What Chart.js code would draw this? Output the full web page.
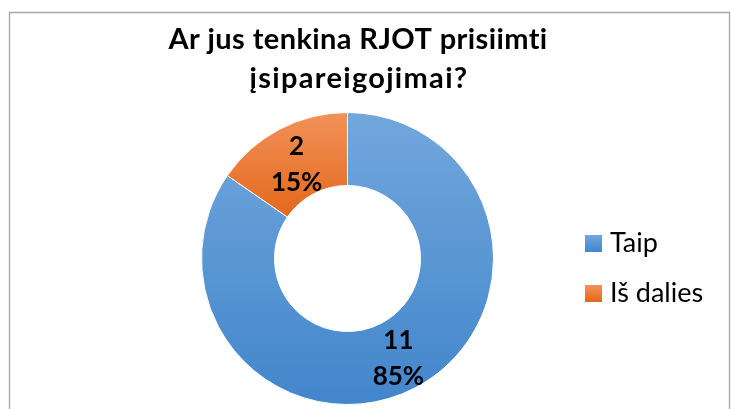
<!DOCTYPE html>
<html>
<head>
<meta charset="utf-8">
<script src="https://cdn.jsdelivr.net/npm/chart.js@4.4.1/dist/chart.umd.min.js"></script>
<style>
  html, body { margin: 0; padding: 0; background: #fff; }
</style>
</head>
<body>
<canvas id="donut" width="733" height="409"></canvas>
<script>
const titleLines = ['Ar jus tenkina RJOT prisiimti', 'įsipareigojimai?'];
const labels = ['Taip', 'Iš dalies'];
const counts = [11, 2];
const percents = ['85%', '15%'];

// gradient stops (top, bottom) for each slice, Excel style
const topColors = ['#72a7dd', '#f1925a'];
const bottomColors = ['#4286cb', '#e4671a'];

const FONT = 'Lato, "Open Sans", sans-serif';

function sliceFill(ctx) {
  const chart = ctx.chart;
  const area = chart.chartArea;
  const i = ctx.dataIndex;
  if (!area) return topColors[i];
  // orange slice only sits in the upper part of the ring
  const bottom = i === 1 ? (area.top + area.bottom) / 2 - 40 : area.bottom;
  const g = chart.ctx.createLinearGradient(0, area.top, 0, bottom);
  g.addColorStop(0, topColors[i]);
  g.addColorStop(1, bottomColors[i]);
  return g;
}

const textPlugin = {
  id: 'textPlugin',
  beforeDraw(chart) {
    const c = chart.ctx;
    c.save();
    c.strokeStyle = '#a6a6a6';
    c.lineWidth = 1.3;
    c.beginPath();
    c.moveTo(9.5, 420);
    c.lineTo(9.5, 12.5);
    c.lineTo(729.5, 12.5);
    c.lineTo(729.5, 420);
    c.stroke();
    c.restore();
  },
  afterDatasetsDraw(chart) {
    const c = chart.ctx;
    const arcs = chart.getDatasetMeta(0).data;
    c.save();
    c.fillStyle = '#000';
    c.font = 'bold 26px ' + FONT;
    c.textAlign = 'center';
    c.textBaseline = 'middle';
    arcs.forEach((arc, i) => {
      const p = arc.tooltipPosition();
      c.fillText(String(counts[i]), p.x, p.y - 15);
      c.fillText(percents[i], p.x, p.y + 21);
    });
    c.restore();
  },
  afterDraw(chart) {
    const c = chart.ctx;
    c.save();
    // title
    c.fillStyle = '#000';
    c.font = 'bold 29px ' + FONT;
    c.textAlign = 'center';
    c.textBaseline = 'alphabetic';
    c.letterSpacing = '0.4px';
    c.fillText(titleLines[0], 358, 49);
    c.letterSpacing = '1.3px';
    c.fillText(titleLines[1], 359, 88);
    c.letterSpacing = '0px';
    // legend
    c.font = '27px ' + FONT;
    c.textAlign = 'left';
    labels.forEach((lab, i) => {
      const base = 252 + i * 50;
      const top = base - 17;
      const g = c.createLinearGradient(0, top, 0, top + 17);
      g.addColorStop(0, topColors[i]);
      g.addColorStop(1, bottomColors[i]);
      c.fillStyle = g;
      c.fillRect(585, top, 17, 17);
      c.fillStyle = '#000';
      c.fillText(lab, 610, base);
    });
    c.restore();
  }
};

new Chart(document.getElementById('donut').getContext('2d'), {
  type: 'doughnut',
  data: {
    labels: labels,
    datasets: [{
      data: counts,
      backgroundColor: sliceFill,
      borderColor: '#ffffff',
      borderWidth: 1
    }]
  },
  options: {
    responsive: false,
    animation: false,
    devicePixelRatio: 1,
    cutout: '50%',
    layout: {
      padding: { top: 112, bottom: 4, left: 201, right: 239 }
    },
    plugins: {
      legend: { display: false },
      title: { display: false },
      tooltip: { enabled: false }
    }
  },
  plugins: [textPlugin]
});
</script>
</body>
</html>
